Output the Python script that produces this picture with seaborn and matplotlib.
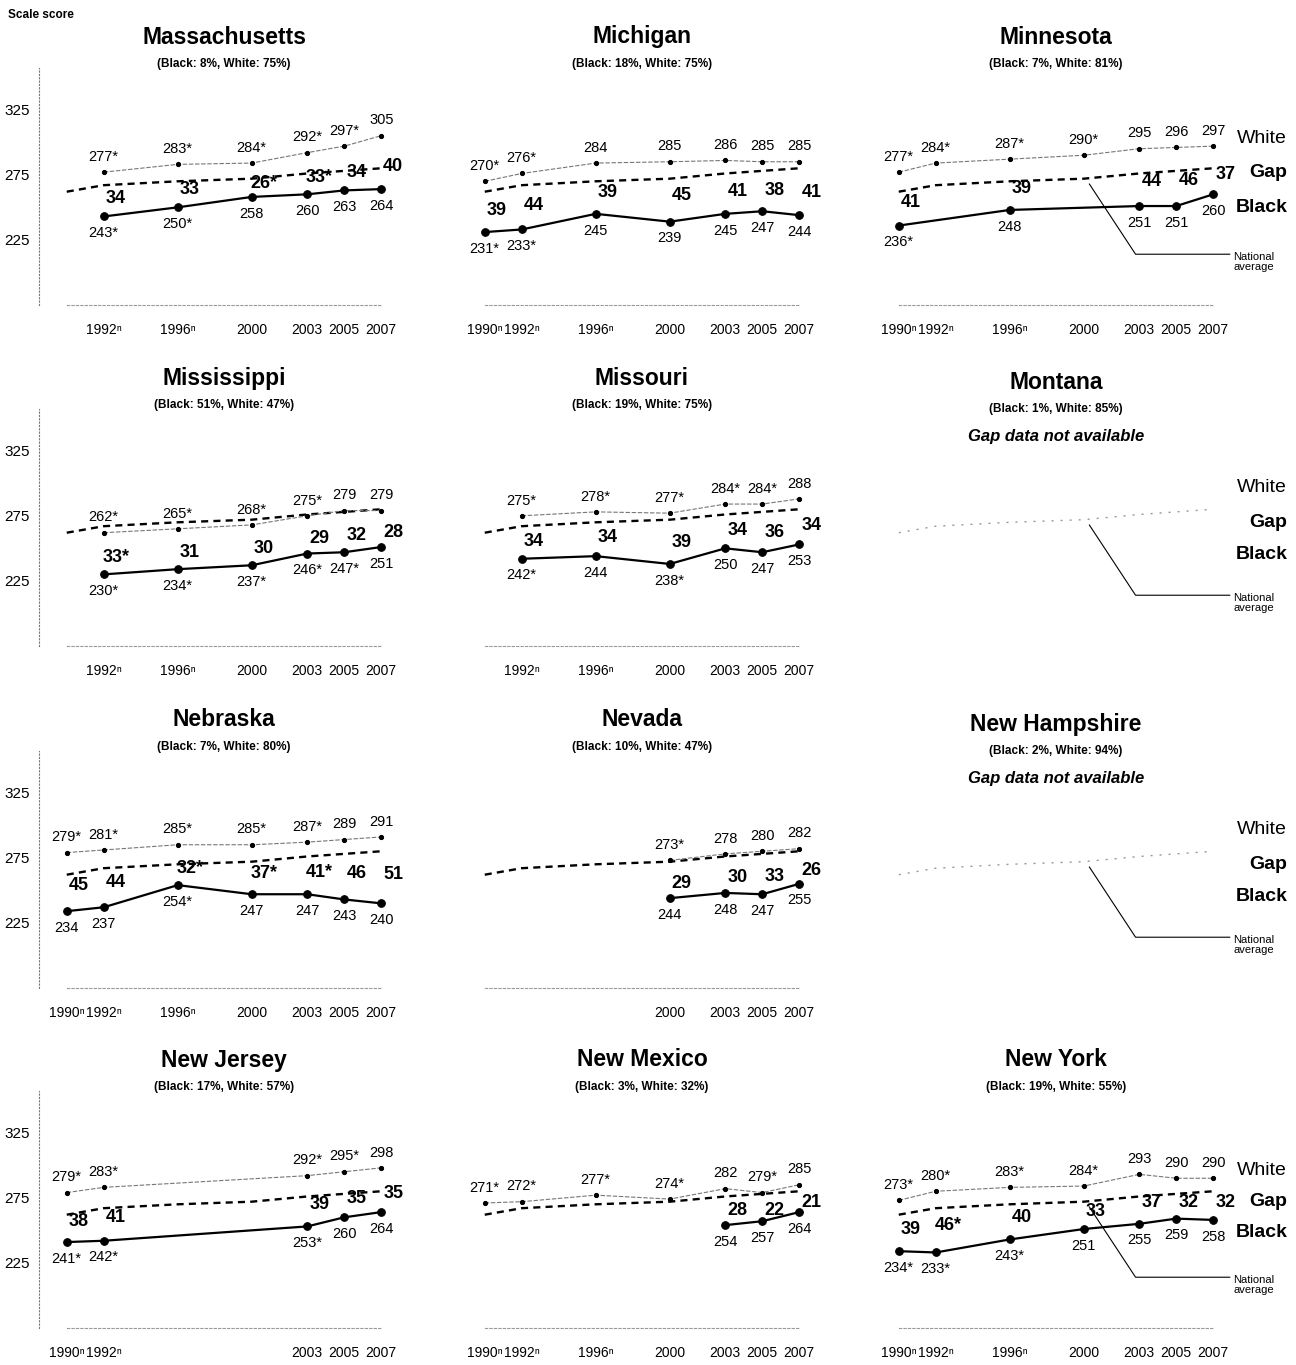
# Black-white gap in grade 8 math scale scores, by state (small multiples)

import numpy as np
import pandas as pd
import seaborn as sns
import matplotlib.pyplot as plt

# Scale scores as printed on the chart ('*' kept as printed), None = not reported
MA_YEARS = [1992, 1996, 2000, 2003, 2005, 2007]
MA_WHITE = ["277*", "283*", "284*", "292*", "297*", "305"]
MA_BLACK = ["243*", "250*", "258", "260", "263", "264"]
MA_GAP = ["34", "33", "26*", "33*", "34", "40"]

MI_YEARS = [1990, 1992, 1996, 2000, 2003, 2005, 2007]
MI_WHITE = ["270*", "276*", "284", "285", "286", "285", "285"]
MI_BLACK = ["231*", "233*", "245", "239", "245", "247", "244"]
MI_GAP = ["39", "44", "39", "45", "41", "38", "41"]

MN_YEARS = [1990, 1992, 1996, 2000, 2003, 2005, 2007]
MN_WHITE = ["277*", "284*", "287*", "290*", "295", "296", "297"]
MN_BLACK = ["236*", None, "248", None, "251", "251", "260"]
MN_GAP = ["41", None, "39", None, "44", "46", "37"]

MS_YEARS = [1992, 1996, 2000, 2003, 2005, 2007]
MS_WHITE = ["262*", "265*", "268*", "275*", "279", "279"]
MS_BLACK = ["230*", "234*", "237*", "246*", "247*", "251"]
MS_GAP = ["33*", "31", "30", "29", "32", "28"]

MO_YEARS = [1992, 1996, 2000, 2003, 2005, 2007]
MO_WHITE = ["275*", "278*", "277*", "284*", "284*", "288"]
MO_BLACK = ["242*", "244", "238*", "250", "247", "253"]
MO_GAP = ["34", "34", "39", "34", "36", "34"]

NE_YEARS = [1990, 1992, 1996, 2000, 2003, 2005, 2007]
NE_WHITE = ["279*", "281*", "285*", "285*", "287*", "289", "291"]
NE_BLACK = ["234", "237", "254*", "247", "247", "243", "240"]
NE_GAP = ["45", "44", "32*", "37*", "41*", "46", "51"]

NV_YEARS = [2000, 2003, 2005, 2007]
NV_WHITE = ["273*", "278", "280", "282"]
NV_BLACK = ["244", "248", "247", "255"]
NV_GAP = ["29", "30", "33", "26"]

NJ_YEARS = [1990, 1992, 2003, 2005, 2007]
NJ_WHITE = ["279*", "283*", "292*", "295*", "298"]
NJ_BLACK = ["241*", "242*", "253*", "260", "264"]
NJ_GAP = ["38", "41", "39", "35", "35"]

NM_YEARS = [1990, 1992, 1996, 2000, 2003, 2005, 2007]
NM_WHITE = ["271*", "272*", "277*", "274*", "282", "279*", "285"]
NM_BLACK = [None, None, None, None, "254", "257", "264"]
NM_GAP = [None, None, None, None, "28", "22", "21"]

NY_YEARS = [1990, 1992, 1996, 2000, 2003, 2005, 2007]
NY_WHITE = ["273*", "280*", "283*", "284*", "293", "290", "290"]
NY_BLACK = ["234*", "233*", "243*", "251", "255", "259", "258"]
NY_GAP = ["39", "46*", "40", "33", "37", "32", "32"]

NATIONAL_YEARS = [1990, 1992, 1996, 2000, 2003, 2005, 2007]
NATIONAL_AVG = [262, 267, 270, 272, 276, 278, 280]

STATES = [
    ("Massachusetts", "(Black: 8%, White: 75%)", MA_YEARS, MA_WHITE, MA_BLACK, MA_GAP),
    ("Michigan", "(Black: 18%, White: 75%)", MI_YEARS, MI_WHITE, MI_BLACK, MI_GAP),
    ("Minnesota", "(Black: 7%, White: 81%)", MN_YEARS, MN_WHITE, MN_BLACK, MN_GAP),
    ("Mississippi", "(Black: 51%, White: 47%)", MS_YEARS, MS_WHITE, MS_BLACK, MS_GAP),
    ("Missouri", "(Black: 19%, White: 75%)", MO_YEARS, MO_WHITE, MO_BLACK, MO_GAP),
    ("Montana", "(Black: 1%, White: 85%)", [], [], [], []),
    ("Nebraska", "(Black: 7%, White: 80%)", NE_YEARS, NE_WHITE, NE_BLACK, NE_GAP),
    ("Nevada", "(Black: 10%, White: 47%)", NV_YEARS, NV_WHITE, NV_BLACK, NV_GAP),
    ("New Hampshire", "(Black: 2%, White: 94%)", [], [], [], []),
    ("New Jersey", "(Black: 17%, White: 57%)", NJ_YEARS, NJ_WHITE, NJ_BLACK, NJ_GAP),
    ("New Mexico", "(Black: 3%, White: 32%)", NM_YEARS, NM_WHITE, NM_BLACK, NM_GAP),
    ("New York", "(Black: 19%, White: 55%)", NY_YEARS, NY_WHITE, NY_BLACK, NY_GAP),
]


def num(s):
    return float(s.rstrip("*")) if s else np.nan


sns.set_theme(style="white")
plt.rcParams["font.family"] = ["Liberation Sans", "DejaVu Sans"]
for key in ["text.color", "axes.labelcolor", "xtick.color", "ytick.color"]:
    plt.rcParams[key] = "black"

W, H = 1296, 1365
fig = plt.figure(figsize=(W / 100, H / 100), dpi=100)
COL_LEFT = [39, 457, 871]
ROW_TOP = [68, 409, 751, 1091]
AX_W, AX_H = 370, 237
PT = 0.72  # points per pixel at 100 dpi

fig.text(8 / W, 1 - 15 / H, "Scale score", fontsize=8.5, weight="bold", va="center")

nat = pd.DataFrame({"year": NATIONAL_YEARS, "score": NATIONAL_AVG})

for i, (name, share, years, white, black, gap) in enumerate(STATES):
    r, c = divmod(i, 3)
    ax = fig.add_axes([COL_LEFT[c] / W, 1 - (ROW_TOP[r] + AX_H) / H, AX_W / W, AX_H / H])
    ax.set_xlim(1988.5, 2008.5)
    ax.set_ylim(175, 357)
    has_data = len(years) > 0

    # titles
    dy = 27 if not has_data else 31
    ax.annotate(name, (0.5, 1), xycoords="axes fraction", xytext=(0, dy * PT),
                textcoords="offset points", ha="center", va="center",
                fontsize=16.5, weight="bold")
    ax.annotate(share, (0.5, 1), xycoords="axes fraction", xytext=(0, (dy - 27) * PT),
                textcoords="offset points", ha="center", va="center",
                fontsize=8.5, weight="bold")
    if not has_data:
        ax.annotate("Gap data not available", (0.5, 1), xycoords="axes fraction",
                    xytext=(0, -27 * PT), textcoords="offset points", ha="center",
                    va="center", fontsize=12, weight="bold", style="italic")

    # national average
    if has_data:
        sns.lineplot(data=nat, x="year", y="score", ax=ax, color="black", lw=1.7,
                     linestyle=(0, (3, 2.2)), estimator=None, sort=False)
    else:
        sns.lineplot(data=nat, x="year", y="score", ax=ax, color="#999999", lw=1.0,
                     linestyle=(0, (1.5, 5)), estimator=None, sort=False)

    if has_data:
        df = pd.DataFrame({"year": years,
                           "white": [num(s) for s in white],
                           "black": [num(s) for s in black]})
        sns.lineplot(data=df.dropna(subset=["white"]), x="year", y="white", ax=ax,
                     color="#777777", lw=0.8, linestyle=(0, (4, 1.5)), marker="o",
                     ms=3, markeredgecolor="black", markerfacecolor="black",
                     estimator=None, sort=False)
        sns.lineplot(data=df.dropna(subset=["black"]), x="year", y="black", ax=ax,
                     color="black", lw=1.6, marker="o", ms=5.5,
                     markeredgecolor="black", estimator=None, sort=False)

        for x, s in zip(years, white):
            if s:
                ax.annotate(s, (x, num(s)), xytext=(0, 11), textcoords="offset points",
                            ha="center", va="center", fontsize=10.5)
        for x, s in zip(years, black):
            if s:
                ax.annotate(s, (x, num(s)), xytext=(0, -12), textcoords="offset points",
                            ha="center", va="center", fontsize=10.5)
        for x, g, w, b in zip(years, gap, white, black):
            if g:
                mid = (num(w) + num(b)) / 2 - 3
                ax.text(x + 0.65, mid, g, ha="center", va="center", fontsize=13,
                        weight="bold")

    # axes styling
    for side in ["top", "right"]:
        ax.spines[side].set_visible(False)
    if c == 0:
        ax.spines["left"].set_linestyle((0, (1, 2)))
        ax.spines["left"].set_color("#777777")
        ax.spines["left"].set_linewidth(0.8)
        ax.set_yticks([225, 275, 325])
        ax.tick_params(axis="y", length=3, width=0.6, color="#777777", direction="inout",
                       pad=5, labelsize=11, labelcolor="black")
    else:
        ax.spines["left"].set_visible(False)
        ax.set_yticks([])

    if has_data:
        ax.spines["bottom"].set_bounds(1990, 2007)
        ax.spines["bottom"].set_linestyle((0, (2, 2)))
        ax.spines["bottom"].set_color("#999999")
        ax.spines["bottom"].set_linewidth(0.8)
        ax.set_xticks(years)
        ax.set_xticklabels([f"{y}\u207f" if y <= 1996 else str(y) for y in years])
        ax.tick_params(axis="x", length=4, width=0.6, color="#777777", direction="inout",
                       pad=11, labelsize=10, labelcolor="black")
    else:
        ax.spines["bottom"].set_visible(False)
        ax.set_xticks([])
    ax.set_xlabel("")
    ax.set_ylabel("")

    # key labels and national average callout in the right column
    if c == 2:
        if has_data:
            wl, bl = num(white[-1]), num(black[-1])
            key_y = [wl + 6, (wl + bl) / 2 - 2, bl - 10]
        else:
            key_y = [297, 270, 245]
        for label, y, wt in zip(["White", "Gap", "Black"], key_y, ["normal", "bold", "bold"]):
            ax.text(2011.0, y, label, ha="right", va="center", fontsize=14, weight=wt,
                    clip_on=False)
        ax.plot([2000.3, 2002.8, 2007.9], [268, 214, 214], color="black", lw=0.8,
                clip_on=False)
        ax.text(2008.1, 208, "National\naverage", ha="left", va="center", fontsize=8,
                linespacing=0.95, clip_on=False)

fig.savefig("out.png", dpi=100)
